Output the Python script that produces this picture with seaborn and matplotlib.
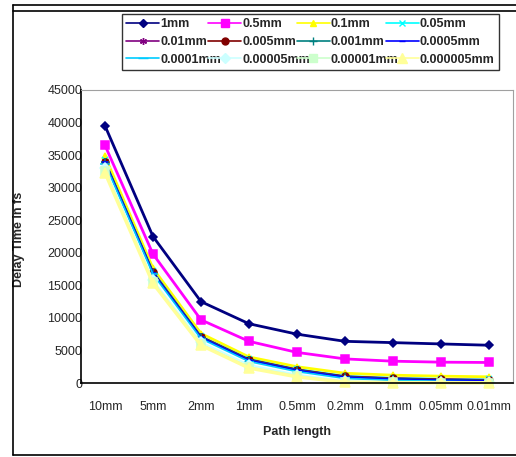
import numpy as np
import matplotlib
matplotlib.use("Agg")
import matplotlib.pyplot as plt
from matplotlib.lines import Line2D
import seaborn as sns

# Path lengths along the x axis
categories = ["10mm", "5mm", "2mm", "1mm", "0.5mm", "0.2mm", "0.1mm", "0.05mm", "0.01mm"]

# Delay time (fs) for each series
s_1mm = [39500, 22500, 12500, 9100, 7500, 6400, 6200, 6000, 5800]
s_05mm = [36500, 19800, 9700, 6400, 4700, 3700, 3350, 3200, 3150]
s_01mm = [34800, 17600, 7600, 4000, 2500, 1500, 1200, 1050, 950]
s_005mm = [34200, 17200, 7200, 3700, 2150, 1100, 800, 650, 550]
s_001mm = [34100, 17100, 7150, 3650, 2100, 1050, 750, 600, 500]
s_0005mm = [34000, 17000, 7100, 3600, 2050, 1000, 700, 550, 450]
s_0001mm = [33950, 16950, 7050, 3550, 2000, 950, 650, 500, 400]
s_00005mm = [33900, 16900, 7000, 3500, 1950, 900, 600, 450, 350]
s_00001mm = [33700, 16700, 6800, 3300, 1750, 700, 400, 250, 150]
s_000005mm = [33000, 15800, 6300, 2800, 1300, 300, 150, 100, 80]
s_000001mm = [32600, 15500, 6000, 2500, 1100, 200, 100, 60, 50]
s_0000005mm = [32300, 15300, 5800, 2300, 950, 120, 60, 40, 30]

series_names = ["1mm", "0.5mm", "0.1mm", "0.05mm", "0.01mm", "0.005mm",
                "0.001mm", "0.0005mm", "0.0001mm", "0.00005mm", "0.00001mm",
                "0.000005mm"]
series_values = [s_1mm, s_05mm, s_01mm, s_005mm, s_001mm, s_0005mm, s_0001mm,
                 s_00005mm, s_00001mm, s_000005mm, s_000001mm, s_0000005mm]

colors = ["#000080", "#FF00FF", "#FFFF00", "#00FFFF", "#800080", "#800000",
          "#008080", "#0000FF", "#00CCFF", "#CCFFFF", "#CCFFCC", "#FFFF99"]
markers = ["D", "s", "^", "x", (6, 2, 0), "o", "+", "_", "_", "D", "s", "^"]
msizes = [4.5, 5.5, 5, 5, 5, 5, 6, 5, 7, 5.5, 5.5, 6.5]
lwidths = [2.0, 2.0, 2.0, 1.2, 1.2, 1.2, 1.2, 1.2, 1.2, 1.2, 1.2, 2.5]

sns.set_theme(style="white")
plt.rcParams["font.family"] = ["Liberation Sans", "DejaVu Sans"]

W, H = 516, 457
fig = plt.figure(figsize=(W / 100, H / 100), dpi=100)
ax = fig.add_axes([81 / W, 1 - 383 / H, (513 - 81) / W, (383 - 90) / H])

x = np.arange(len(categories))
for name, vals, c, m, ms, lw in zip(series_names, series_values, colors,
                                    markers, msizes, lwidths):
    sns.lineplot(x=x, y=vals, ax=ax, color=c, marker=m, markersize=ms,
                 markeredgecolor=c, markerfacecolor=c, markeredgewidth=1.1,
                 linewidth=lw, label=name, clip_on=False, legend=False)

ax.set_xlim(-0.5, len(categories) - 0.5)
ax.set_ylim(0, 45000)
ax.set_yticks(np.arange(0, 45001, 5000))
ax.set_yticklabels([str(v) for v in range(0, 45001, 5000)], fontsize=9)
ax.set_xticks(x)
ax.set_xticklabels(categories, fontsize=9)
ax.set_xticks(np.arange(-0.5, len(categories), 1), minor=True)
ax.tick_params(axis="x", which="major", length=0, pad=13)
ax.tick_params(axis="x", which="minor", length=4, width=1, color="black",
               direction="out")
ax.tick_params(axis="y", length=4, width=1, color="black", direction="out",
               pad=-5)
ax.grid(False)

for side in ("left", "bottom"):
    ax.spines[side].set_color("black")
    ax.spines[side].set_linewidth(1.2)
for side in ("top", "right"):
    ax.spines[side].set_color("#A0A0A0")
    ax.spines[side].set_linewidth(0.8)

ax.set_xlabel("Path length", fontsize=9, fontweight="bold", labelpad=9)
ax.set_ylabel("Delay Time in fs", fontsize=9, fontweight="bold")
ax.yaxis.set_label_coords(-0.13, 0.49)

# Legend: 3 rows x 4 columns, filled row by row, in a black box above the plot
handles = [Line2D([], [], color=c, marker=m, markersize=ms,
                  markerfacecolor=c, markeredgecolor=c, linewidth=1.2)
           for c, m, ms in zip(colors, markers, msizes)]
ncol, nrow = 4, 3
order = [r * ncol + c for c in range(ncol) for r in range(nrow)]
leg = fig.legend([handles[i] for i in order], [series_names[i] for i in order],
                 loc="upper left",
                 bbox_to_anchor=(122 / W, 1 - 71 / H, (499 - 122) / W, (71 - 14) / H),
                 mode="expand", ncol=ncol, fontsize=9, frameon=True,
                 fancybox=False, edgecolor="black", handlelength=2.6,
                 handletextpad=0.1, columnspacing=0.3, labelspacing=0.45,
                 borderpad=0.35, borderaxespad=0)
leg.get_frame().set_linewidth(1.0)
for t in leg.get_texts():
    t.set_fontweight("bold")

# Outer chart border
def fig_line(xs, ys, lw=1.2):
    fig.add_artist(Line2D([v / W for v in xs], [1 - v / H for v in ys],
                          color="black", linewidth=lw, transform=fig.transFigure))

fig_line([13, 13], [5, 455])
fig_line([13, 516], [5, 5])
fig_line([13, 516], [11, 11])
fig_line([13, 516], [455, 455])

fig.savefig("out.png", dpi=100)
